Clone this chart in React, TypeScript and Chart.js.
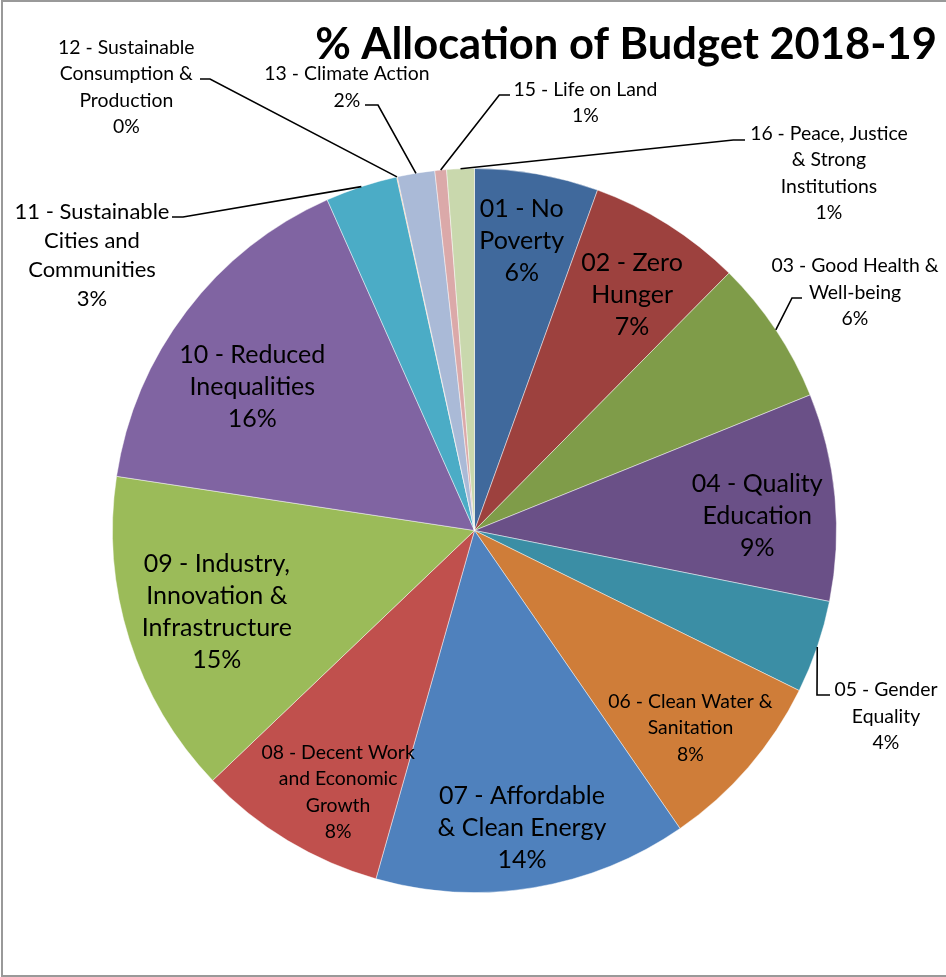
import { useEffect, useRef } from "react";
import { Chart, registerables } from "chart.js";

Chart.register(...registerables);

// ---------------- data ----------------
const categories = [
  "01 - No Poverty",
  "02 - Zero Hunger",
  "03 - Good Health & Well-being",
  "04 - Quality Education",
  "05 - Gender Equality",
  "06 - Clean Water & Sanitation",
  "07 - Affordable & Clean Energy",
  "08 - Decent Work and Economic Growth",
  "09 - Industry, Innovation & Infrastructure",
  "10 - Reduced Inequalities",
  "11 - Sustainable Cities and Communities",
  "12 - Sustainable Consumption & Production",
  "13 - Climate Action",
  "15 - Life on Land",
  "16 - Peace, Justice & Strong Institutions",
];

// % share of budget
const allocation = [5.52, 6.89, 6.48, 9.25, 4.15, 8.1, 14.0, 8.48, 14.52, 15.94, 3.22, 0.03, 1.67, 0.52, 1.23];

const titleText = "% Allocation of Budget 2018-19";

// ---------------- styles ----------------
const sliceColors = [
  "#40699C", "#9D413E", "#7F9C49", "#6A5087", "#3B8EA5", "#CF7D39",
  "#4F81BD", "#C0504D", "#9BBB59", "#8064A2", "#4BACC6", "#F79646",
  "#AABAD7", "#DBA9A9", "#C9D8AD",
];

const labelLines = [
  ["01 - No", "Poverty"],
  ["02 - Zero", "Hunger"],
  ["03 - Good Health &", "Well-being"],
  ["04 - Quality", "Education"],
  ["05 - Gender", "Equality"],
  ["06 - Clean Water &", "Sanitation"],
  ["07 - Affordable", "& Clean Energy"],
  ["08 - Decent Work", "and Economic", "Growth"],
  ["09 - Industry,", "Innovation &", "Infrastructure"],
  ["10 - Reduced", "Inequalities"],
  ["11 - Sustainable", "Cities and", "Communities"],
  ["12 - Sustainable", "Consumption &", "Production"],
  ["13 - Climate Action"],
  ["15 - Life on Land"],
  ["16 - Peace, Justice", "& Strong", "Institutions"],
];

const FONT = "Lato, 'Noto Sans', sans-serif";
const textStyles: Record<string, { size: number; lh: number }> = {
  L: { size: 25, lh: 32 },
  M: { size: 22, lh: 29 },
  S: { size: 19.4, lh: 26.5 },
};

type Place =
  | { kind: "in"; da: number; rf: number; size: string }
  | { kind: "out"; tx: number; ty: number; ex: number; ey: number; hx: number; hy: number; size: string };

// label placement relative to the pie centre
const placements: Place[] = [
  { kind: "in", da: -0.7, rf: 0.813, size: "L" },
  { kind: "in", da: 1.4, rf: 0.785, size: "L" },
  { kind: "out", tx: 380.5, ty: -238.5, ex: 317.5, ey: -232.5, hx: 327.5, hy: -232.5, size: "S" },
  { kind: "in", da: 2.25, rf: 0.782, size: "L" },
  { kind: "out", tx: 411.5, ty: 185.5, ex: 342.5, ey: 164.5, hx: 355.5, hy: 164.5, size: "S" },
  { kind: "in", da: 1.5, rf: 0.807, size: "S" },
  { kind: "in", da: 0.3, rf: 0.829, size: "L" },
  { kind: "in", da: -3.5, rf: 0.814, size: "S" },
  { kind: "in", da: 0.1, rf: 0.746, size: "L" },
  { kind: "in", da: -4.3, rf: 0.732, size: "L" },
  { kind: "out", tx: -382.5, ty: -275.5, ex: -291.5, ey: -313.5, hx: -302.5, hy: -313.5, size: "M" },
  { kind: "out", tx: -348.2, ty: -444.1, ex: -264.5, ey: -451.5, hx: -274.5, hy: -451.5, size: "S" },
  { kind: "out", tx: -127.5, ty: -444, ex: -96.5, ey: -425.5, hx: -109.5, hy: -425.5, size: "S" },
  { kind: "out", tx: 111, ty: -428.3, ex: 24.8, ey: -435.5, hx: 35.5, hy: -435.5, size: "S" },
  { kind: "out", tx: 354.5, ty: -357.9, ex: 258.8, ey: -390.5, hx: 270.5, hy: -390.5, size: "S" },
];

const framePlugin = {
  id: "frame",
  beforeDraw(chart: any) {
    const ctx = chart.ctx as CanvasRenderingContext2D;
    ctx.save();
    ctx.fillStyle = "#ffffff";
    ctx.fillRect(0, 0, chart.width, chart.height);
    ctx.strokeStyle = "#999999";
    ctx.lineWidth = 2;
    ctx.strokeRect(2, 1, chart.width + 20, chart.height - 2);
    // title
    ctx.fillStyle = "#000000";
    ctx.font = `bold 43.5px ${FONT}`;
    ctx.textAlign = "right";
    ctx.textBaseline = "alphabetic";
    ctx.fillText(titleText, 937, 59);
    ctx.restore();
  },
};

const labelPlugin = {
  id: "sliceLabels",
  afterDatasetsDraw(chart: any) {
    const ctx = chart.ctx as CanvasRenderingContext2D;
    const meta = chart.getDatasetMeta(0);
    const data = chart.data.datasets[0].data as number[];
    const total = data.reduce((a, b) => a + b, 0);
    ctx.save();
    meta.data.forEach((arc: any, i: number) => {
      const p = arc.getProps(["x", "y", "startAngle", "endAngle", "outerRadius"], true);
      const mid = (p.startAngle + p.endAngle) / 2;
      const pct = Math.round((data[i] / total) * 100) + "%";
      const lines = [...labelLines[i], pct];
      const pl = placements[i];
      const st = textStyles[pl.size];
      let cx: number;
      let cy: number;
      if (pl.kind === "in") {
        const a = mid + (pl.da * Math.PI) / 180;
        cx = p.x + Math.cos(a) * p.outerRadius * pl.rf;
        cy = p.y + Math.sin(a) * p.outerRadius * pl.rf;
      } else {
        cx = p.x + pl.tx;
        cy = p.y + pl.ty;
        const sx = p.x + Math.cos(mid) * p.outerRadius;
        const sy = p.y + Math.sin(mid) * p.outerRadius;
        ctx.strokeStyle = "#000000";
        ctx.lineWidth = 1.6;
        ctx.beginPath();
        ctx.moveTo(sx, sy);
        ctx.lineTo(p.x + pl.ex, p.y + pl.ey);
        ctx.lineTo(p.x + pl.hx, p.y + pl.hy);
        ctx.stroke();
      }
      ctx.fillStyle = "#000000";
      ctx.font = `${st.size}px ${FONT}`;
      ctx.textAlign = "center";
      ctx.textBaseline = "alphabetic";
      const n = lines.length;
      lines.forEach((ln, k) => {
        const ly = cy + (k - (n - 1) / 2) * st.lh;
        ctx.fillText(ln, cx, ly + st.size * 0.36);
      });
    });
    ctx.restore();
  },
};

export default function App() {
  const ref = useRef<HTMLCanvasElement | null>(null);
  useEffect(() => {
    if (!ref.current) return;
    const chart = new Chart(ref.current, {
      type: "pie",
      data: {
        labels: categories,
        datasets: [
          {
            data: allocation,
            backgroundColor: sliceColors,
            borderColor: "rgba(255,255,255,0.45)",
            borderWidth: 1,
          },
        ],
      },
      options: {
        responsive: false,
        animation: false,
        layout: { padding: { left: 112, right: 109, top: 168, bottom: 84 } },
        plugins: {
          legend: { display: false },
          tooltip: { enabled: false },
          title: { display: false },
        },
      },
      plugins: [framePlugin, labelPlugin],
    });
    return () => chart.destroy();
  }, []);
  return (
    <div style={{ position: "absolute", left: 0, top: 0, width: 946, height: 977, background: "#fff" }}>
      <canvas ref={ref} width={946} height={977} style={{ display: "block" }} />
    </div>
  );
}
